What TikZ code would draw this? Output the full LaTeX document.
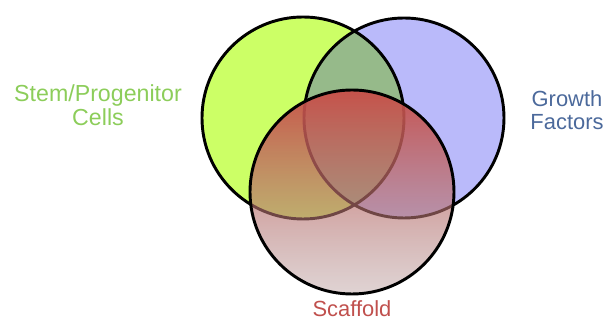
\documentclass[tikz,border=0pt]{standalone}
\usepackage{fontspec}
\setmainfont{Liberation Sans}
\usetikzlibrary{fadings}
\definecolor{stemfill}{RGB}{204,255,102}
\definecolor{growthfill}{RGB}{186,186,250}
\definecolor{bothfill}{RGB}{150,186,138}
\definecolor{scaftop}{RGB}{200,78,72}
\definecolor{scafmid}{RGB}{198,108,100}
\definecolor{scafbot}{RGB}{172,140,140}
\definecolor{stemtext}{RGB}{140,205,90}
\definecolor{growthtext}{RGB}{75,105,155}
\definecolor{scaftext}{RGB}{192,80,77}
\tikzfading[name=scaffoldfade, top color=transparent!4, middle color=transparent!36, bottom color=transparent!62]

\begin{document}
\begin{tikzpicture}[x=0.03cm, y=0.03cm, line width=2.5pt, font=\fontsize{18.7}{19.6}\selectfont]
  \useasboundingbox (0,0) rectangle (606,320);
  \coordinate (stem) at (303,202);
  \coordinate (growth) at (404,202);
  \coordinate (scaffold) at (352,128);
  % the two upper sets
  \fill[stemfill] (stem) circle (101);
  \fill[growthfill] (growth) circle (100);
  \begin{scope}
    \clip (stem) circle (101);
    \fill[bothfill] (growth) circle (100);
  \end{scope}
  \draw (stem) circle (101);
  \draw (growth) circle (100);
  % scaffold on top, fading out downwards
  \shade[top color=scaftop, middle color=scafmid, bottom color=scafbot, path fading=scaffoldfade] (scaffold) circle (102);
  \draw (scaffold) circle (102);
  \node[stemtext, align=center, inner sep=0pt, font=\fontsize{19.8}{20.4}\selectfont] (stemlabel) at (98,215) {Stem/Progenitor\\Cells};
  \node[growthtext, align=center, inner sep=0pt] (growthlabel) at (567,210) {Growth\\Factors};
  \node[scaftext, anchor=base, inner sep=0pt] (scaflabel) at (352,3) {Scaffold};
\end{tikzpicture}
\end{document}
